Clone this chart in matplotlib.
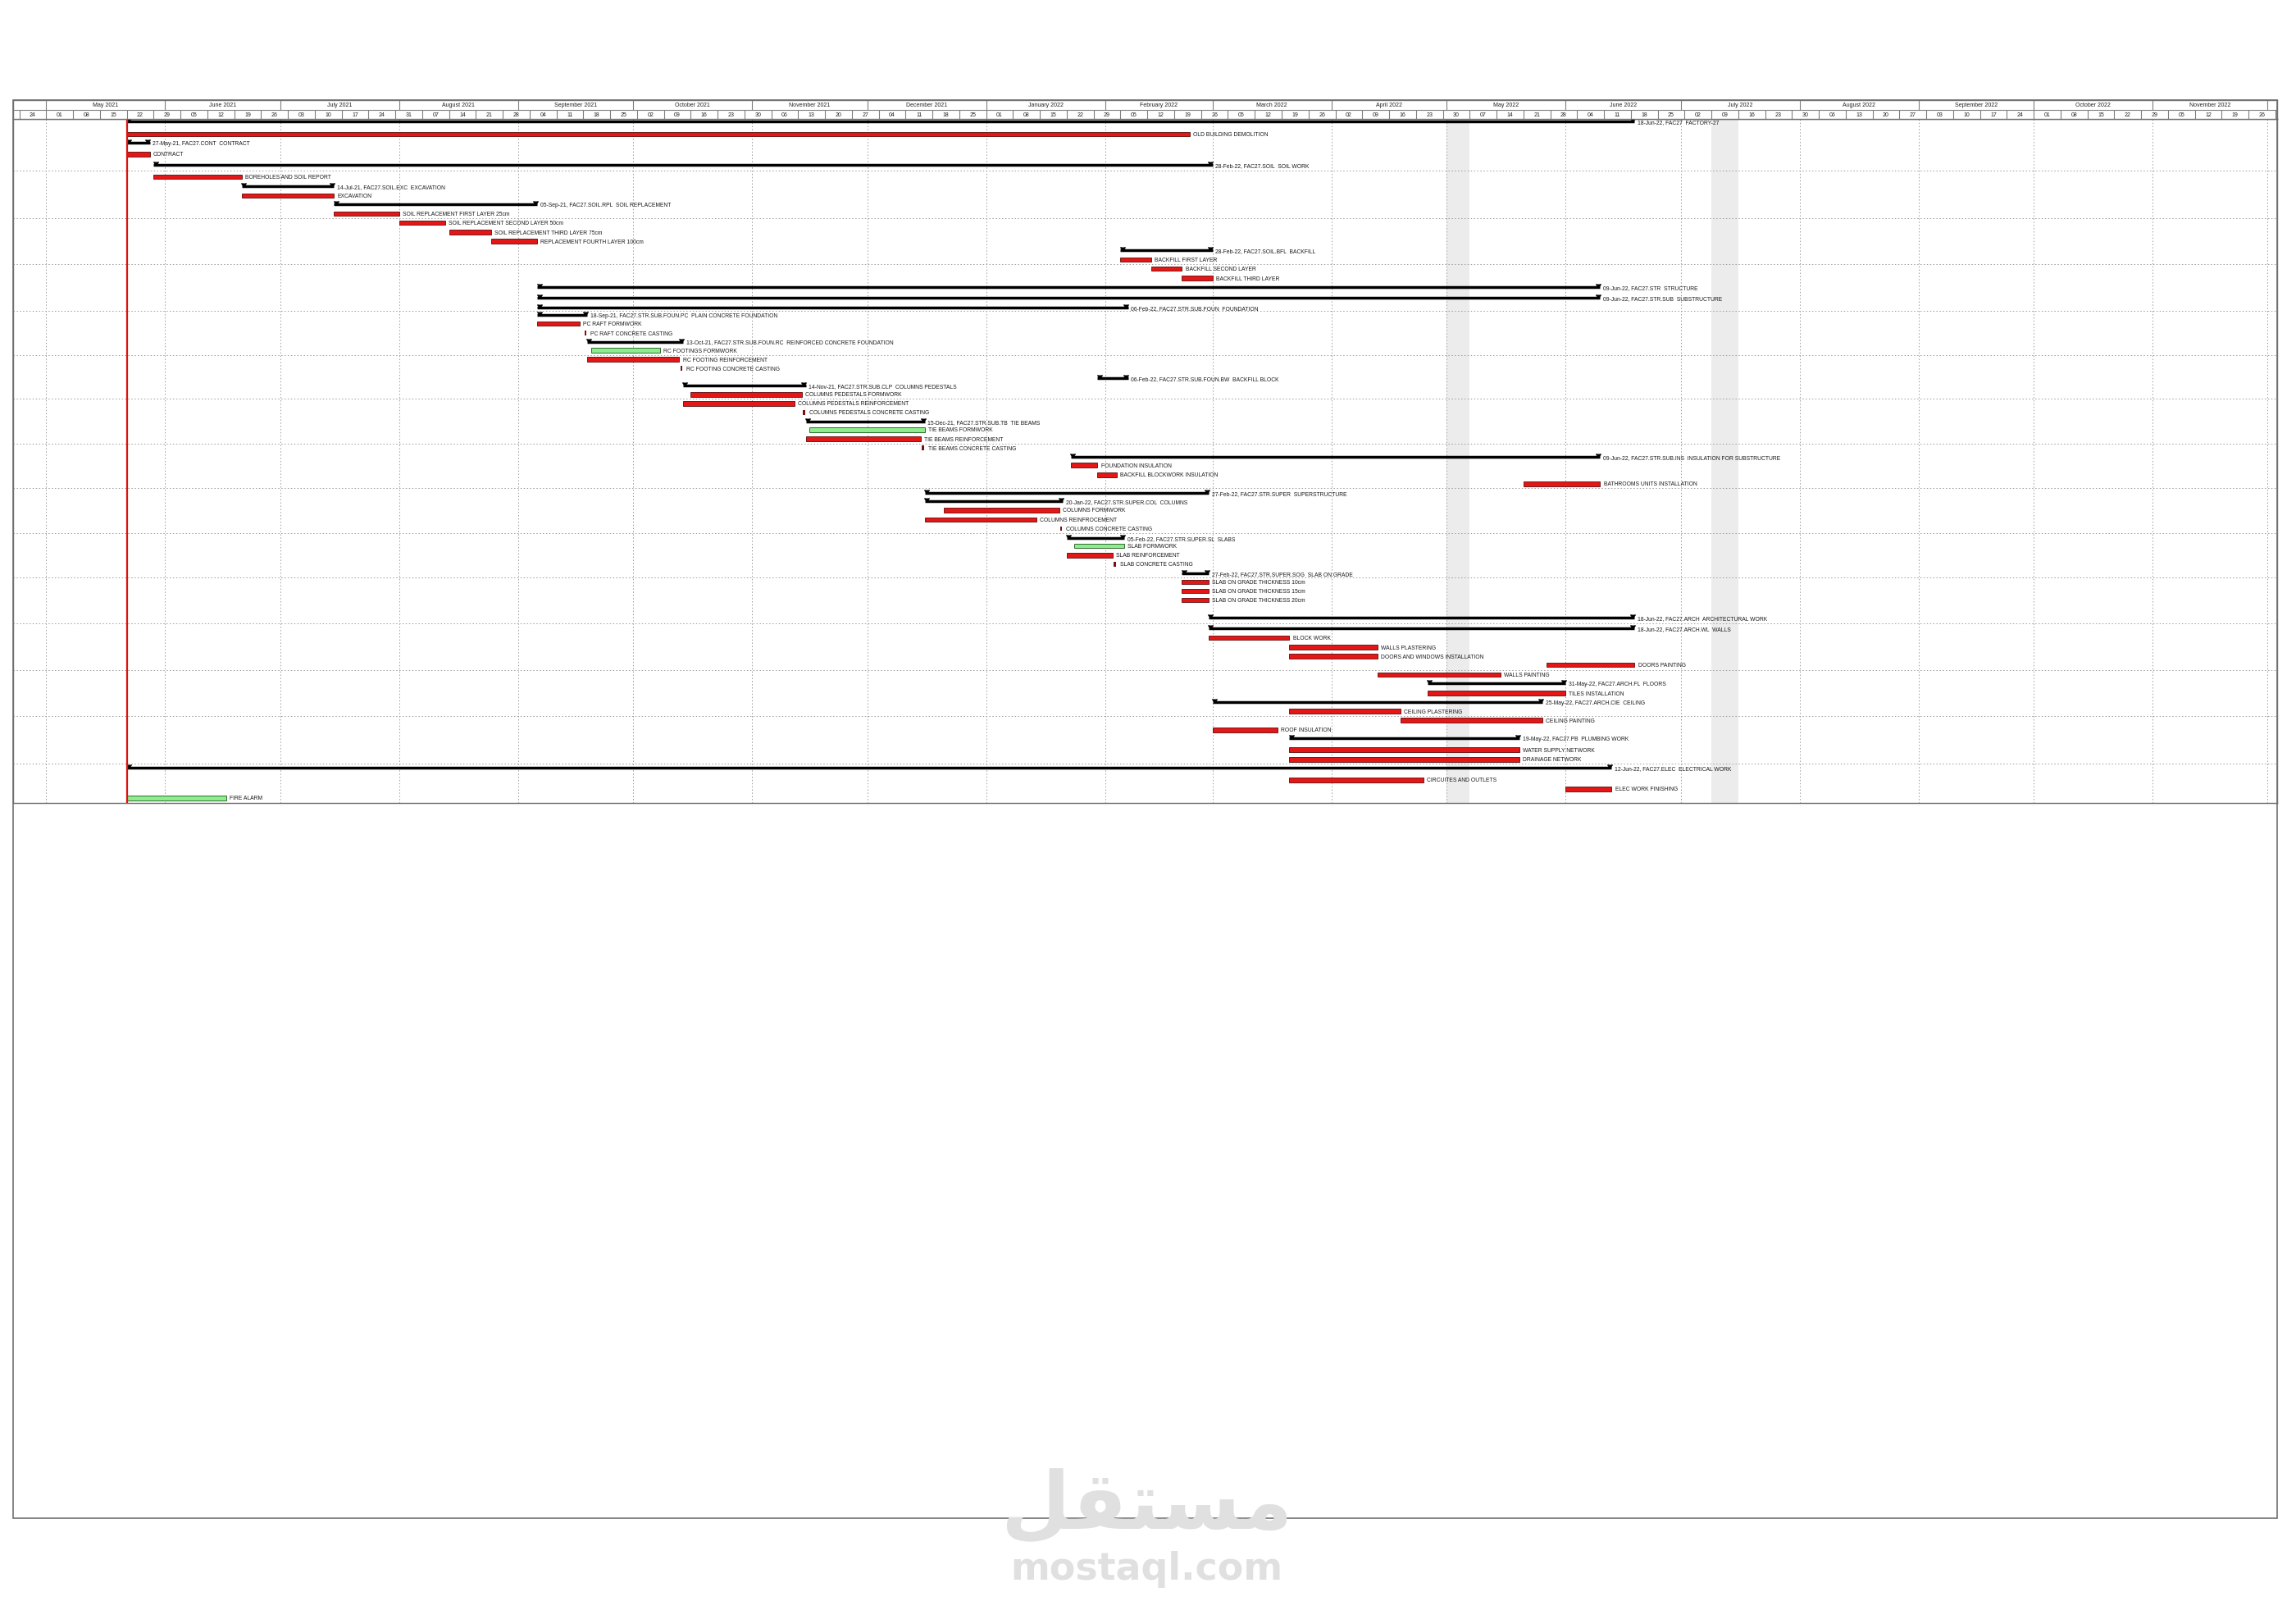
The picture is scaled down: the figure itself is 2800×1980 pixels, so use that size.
import matplotlib
matplotlib.use("Agg")
import matplotlib.pyplot as plt
import matplotlib.dates as mdates
from matplotlib.patches import Rectangle
import pandas as pd

plt.rcParams["font.family"] = ["Liberation Sans Narrow", "Liberation Sans", "DejaVu Sans"]

DATA_DATE = "2021-05-22"
VIEW_START = "2021-04-22 09:00"
VIEW_END = "2022-12-03 11:00"
HOLIDAYS = [("2022-05-01", "2022-05-07"), ("2022-07-09", "2022-07-16")]

# kind: S = WBS summary, T = activity, G = activity (green), C = one-day casting
KINDS = ["S", "T", "S", "T", "S", "T", "S", "T", "S", "T", "T", "T", "T",
         "S", "T", "T", "T", "S", "S", "S", "S", "T", "C", "S", "G", "T", "C",
         "S", "S", "T", "T", "C", "S", "G", "T", "C", "S", "T", "T", "T",
         "S", "S", "T", "T", "C", "S", "G", "T", "C", "S", "T", "T", "T",
         "S", "S", "T", "T", "T", "T", "T", "S", "T", "S", "T", "T", "T",
         "S", "T", "T", "S", "T", "T", "G"]

CODES = ["FAC27", "", "FAC27.CONT", "", "FAC27.SOIL", "", "FAC27.SOIL.EXC", "",
         "FAC27.SOIL.RPL", "", "", "", "", "FAC27.SOIL.BFL", "", "", "",
         "FAC27.STR", "FAC27.STR.SUB", "FAC27.STR.SUB.FOUN", "FAC27.STR.SUB.FOUN.PC",
         "", "", "FAC27.STR.SUB.FOUN.RC", "", "", "", "FAC27.STR.SUB.FOUN.BW",
         "FAC27.STR.SUB.CLP", "", "", "", "FAC27.STR.SUB.TB", "", "", "",
         "FAC27.STR.SUB.INS", "", "", "", "FAC27.STR.SUPER", "FAC27.STR.SUPER.COL",
         "", "", "", "FAC27.STR.SUPER.SL", "", "", "", "FAC27.STR.SUPER.SOG", "", "", "",
         "FAC27.ARCH", "FAC27.ARCH.WL", "", "", "", "", "", "FAC27.ARCH.FL", "",
         "FAC27.ARCH.CIE", "", "", "", "FAC27.PB", "", "", "FAC27.ELEC", "", "", ""]

NAMES = ["FACTORY-27", "OLD BUILDING DEMOLITION", "CONTRACT", "CONTRACT", "SOIL WORK",
         "BOREHOLES AND SOIL REPORT", "EXCAVATION", "EXCAVATION", "SOIL REPLACEMENT",
         "SOIL REPLACEMENT FIRST LAYER 25cm", "SOIL REPLACEMENT SECOND LAYER 50cm",
         "SOIL REPLACEMENT THIRD LAYER 75cm", "REPLACEMENT FOURTH LAYER 100cm",
         "BACKFILL", "BACKFILL FIRST LAYER", "BACKFILL SECOND LAYER", "BACKFILL THIRD LAYER",
         "STRUCTURE", "SUBSTRUCTURE", "FOUNDATION", "PLAIN CONCRETE FOUNDATION",
         "PC RAFT FORMWORK", "PC RAFT CONCRETE CASTING", "REINFORCED CONCRETE FOUNDATION",
         "RC FOOTINGS FORMWORK", "RC FOOTING REINFORCEMENT", "RC FOOTING CONCRETE CASTING",
         "BACKFILL BLOCK", "COLUMNS PEDESTALS", "COLUMNS PEDESTALS FORMWORK",
         "COLUMNS PEDESTALS REINFORCEMENT", "COLUMNS PEDESTALS CONCRETE CASTING",
         "TIE BEAMS", "TIE BEAMS FORMWORK", "TIE BEAMS REINFORCEMENT", "TIE BEAMS CONCRETE CASTING",
         "INSULATION FOR SUBSTRUCTURE", "FOUNDATION INSULATION", "BACKFILL BLOCKWORK INSULATION",
         "BATHROOMS UNITS INSTALLATION", "SUPERSTRUCTURE", "COLUMNS", "COLUMNS FORMWORK",
         "COLUMNS REINFROCEMENT", "COLUMNS CONCRETE CASTING", "SLABS", "SLAB FORMWORK",
         "SLAB REINFORCEMENT", "SLAB CONCRETE CASTING", "SLAB ON GRADE",
         "SLAB ON GRADE THICKNESS 10cm", "SLAB ON GRADE THICKNESS 15cm",
         "SLAB ON GRADE THICKNESS 20cm", "ARCHITECTURAL WORK", "WALLS", "BLOCK WORK",
         "WALLS PLASTERING", "DOORS AND WINDOWS INSTALLATION", "DOORS PAINTING",
         "WALLS PAINTING", "FLOORS", "TILES INSTALLATION", "CEILING", "CEILING PLASTERING",
         "CEILING PAINTING", "ROOF INSULATION", "PLUMBING WORK", "WATER SUPPLY NETWORK",
         "DRAINAGE NETWORK", "ELECTRICAL WORK", "CIRCUITES AND OUTLETS",
         "ELEC WORK FINISHING", "FIRE ALARM"]

STARTS = ["2021-05-22", "2021-05-22", "2021-05-22", "2021-05-22", "2021-05-29",
          "2021-05-29", "2021-06-21", "2021-06-21", "2021-07-15", "2021-07-15",
          "2021-08-01", "2021-08-14", "2021-08-25", "2022-02-05", "2022-02-05",
          "2022-02-13", "2022-02-21", "2021-09-06", "2021-09-06", "2021-09-06",
          "2021-09-06", "2021-09-06", "2021-09-18", "2021-09-19", "2021-09-20",
          "2021-09-19", "2021-10-13", "2022-01-30", "2021-10-14", "2021-10-16",
          "2021-10-14", "2021-11-14", "2021-11-15", "2021-11-16", "2021-11-15",
          "2021-12-15", "2022-01-23", "2022-01-23", "2022-01-30", "2022-05-21",
          "2021-12-16", "2021-12-16", "2021-12-21", "2021-12-16", "2022-01-20",
          "2022-01-22", "2022-01-24", "2022-01-22", "2022-02-03", "2022-02-21",
          "2022-02-21", "2022-02-21", "2022-02-21", "2022-02-28", "2022-02-28",
          "2022-02-28", "2022-03-21", "2022-03-21", "2022-05-27", "2022-04-13",
          "2022-04-26", "2022-04-26", "2022-03-01", "2022-03-21", "2022-04-19",
          "2022-03-01", "2022-03-21", "2022-03-21", "2022-03-21", "2021-05-22",
          "2022-03-21", "2022-06-01", "2021-05-22"]

FINISHES = ["2022-06-18", "2022-02-22", "2021-05-27", "2021-05-27", "2022-02-28",
            "2021-06-20", "2021-07-14", "2021-07-14", "2021-09-05", "2021-07-31",
            "2021-08-12", "2021-08-24", "2021-09-05", "2022-02-28", "2022-02-12",
            "2022-02-20", "2022-02-28", "2022-06-09", "2022-06-09", "2022-02-06",
            "2021-09-18", "2021-09-16", "2021-09-18", "2021-10-13", "2021-10-07",
            "2021-10-12", "2021-10-13", "2022-02-06", "2021-11-14", "2021-11-13",
            "2021-11-11", "2021-11-14", "2021-12-15", "2021-12-15", "2021-12-14",
            "2021-12-15", "2022-06-09", "2022-01-29", "2022-02-03", "2022-06-09",
            "2022-02-27", "2022-01-20", "2022-01-19", "2022-01-13", "2022-01-20",
            "2022-02-05", "2022-02-05", "2022-02-02", "2022-02-03", "2022-02-27",
            "2022-02-27", "2022-02-27", "2022-02-27", "2022-06-18", "2022-06-18",
            "2022-03-20", "2022-04-12", "2022-04-12", "2022-06-18", "2022-05-14",
            "2022-05-31", "2022-05-31", "2022-05-25", "2022-04-18", "2022-05-25",
            "2022-03-17", "2022-05-19", "2022-05-19", "2022-05-19", "2022-06-12",
            "2022-04-24", "2022-06-12", "2021-06-16"]

# row positions of the layout (rows are not all the same height)
ROWS = [0.0, 1.4, 2.35, 3.6, 4.8, 6.1, 7.1, 8.15, 9.1, 10.15, 11.15, 12.2, 13.2,
        14.2, 15.2, 16.2, 17.25, 18.25, 19.4, 20.5, 21.3, 22.25, 23.3, 24.25, 25.2,
        26.2, 27.2, 28.25, 29.1, 30.05, 31.05, 32.05, 33.05, 33.95, 34.95, 35.95,
        36.9, 37.85, 38.9, 39.9, 40.9, 41.85, 42.8, 43.85, 44.85, 45.85, 46.75,
        47.75, 48.75, 49.75, 50.7, 51.7, 52.7, 54.65, 55.85, 56.85, 57.9, 58.9,
        59.85, 60.9, 61.9, 62.95, 63.95, 64.95, 65.95, 67.0, 67.95, 69.2, 70.25,
        71.15, 72.5, 73.5, 74.5]
EMPTY_ROW_AFTER = 52          # a WBS row without bars sits here
SIGHT_EVERY = 5

# ── Figure layout ────────────────────────────────────────────────────────────
W, H = 2800, 1981
fig = plt.figure(figsize=(W / 100, H / 100), dpi=100)
L, R = 16 / W, 2777 / W
ax = fig.add_axes([L, 1 - 980 / H, R - L, (980 - 146) / H])
hx = fig.add_axes([L, 1 - 146 / H, R - L, (146 - 123) / H], sharex=ax)

x0, x1 = mdates.datestr2num(VIEW_START), mdates.datestr2num(VIEW_END)
ax.set_xlim(x0, x1)
ax.set_ylim(75.05, -0.28)
ax.set_xticks([])
ax.set_yticks([])
for sp in ax.spines.values():
    sp.set_color("#6f6f6f")
    sp.set_linewidth(1.0)

GRID = "#9a9a9a"
TXT = dict(fontsize=4.9, color="#1a1a1a", va="center", ha="left")

# holidays + month sight lines
for a, b in HOLIDAYS:
    ax.axvspan(mdates.datestr2num(a), mdates.datestr2num(b), color="#ececec", lw=0, zorder=0)
months = pd.date_range("2021-04-01", "2023-01-01", freq="MS")
for m in months:
    mx = mdates.date2num(m)
    if x0 < mx < x1:
        ax.axvline(mx, color=GRID, lw=0.7, ls=(0, (1.5, 2.5)), zorder=1)

# horizontal sight lines every 5 rows
slots = ROWS[:EMPTY_ROW_AFTER + 1] + [(ROWS[EMPTY_ROW_AFTER] + ROWS[EMPTY_ROW_AFTER + 1]) / 2] \
    + ROWS[EMPTY_ROW_AFTER + 1:]
for k in range(SIGHT_EVERY, len(slots), SIGHT_EVERY):
    ax.axhline((slots[k - 1] + slots[k]) / 2, color=GRID, lw=0.7, ls=(0, (1.5, 2.5)), zorder=1)

# data date
ax.axvline(mdates.datestr2num(DATA_DATE), color="#e01010", lw=1.6, zorder=5)

# bars
for kind, code, name, s, f, y in zip(KINDS, CODES, NAMES, STARTS, FINISHES, ROWS):
    xs = mdates.datestr2num(s)
    xe = mdates.datestr2num(f) + 1
    if kind == "S":
        ax.hlines(y, xs, xe, color="black", lw=2.5, zorder=4)
        ax.plot([xs + 0.5, xe - 0.5], [y, y], ls="none", marker=7, ms=4.2,
                color="black", zorder=4)
        label = f"{pd.Timestamp(f):%d-%b-%y}, {code}  {name}"
        ax.annotate(label, (xe, y), xytext=(2.5, -0.3), textcoords="offset points", **TXT)
        continue
    if kind == "C":
        ax.barh(y, 0.45, left=xs + 0.28, height=0.5, color="#7a1010", lw=0, zorder=4)
    elif kind == "G":
        ax.barh(y, xe - xs, left=xs, height=0.5, color="#8eec8e",
                edgecolor="#2f6a2f", lw=0.7, zorder=4)
    else:
        ax.barh(y, xe - xs, left=xs, height=0.5, color="#e41616",
                edgecolor="#5a0a0a", lw=0.6, zorder=4)
    ax.annotate(name, (xe, y), xytext=(3, 0), textcoords="offset points", **TXT)

# ── Timescale header ─────────────────────────────────────────────────────────
hx.set_ylim(0, 1)
hx.set_xticks([])
hx.set_yticks([])
for sp in hx.spines.values():
    sp.set_color("#6f6f6f")
    sp.set_linewidth(1.0)
hx.axhline(0.5, color="#7f7f7f", lw=0.8)
HTXT = dict(fontsize=5.0, color="#222222", ha="center", va="center", clip_on=True)

for m0, m1 in zip(months[:-1], months[1:]):
    a, b = mdates.date2num(m0), mdates.date2num(m1)
    if x0 < a < x1:
        hx.vlines(a, 0.5, 1, color="#7f7f7f", lw=0.8)
    lo, hi = max(a, x0), min(b, x1)
    if hi - lo > 10:
        hx.text((lo + hi) / 2, 0.75, f"{m0:%B %Y}", **HTXT)

weeks = pd.date_range("2021-04-17", "2022-12-10", freq="7D")
for w in weeks:
    a = mdates.date2num(w)
    if x0 < a < x1:
        hx.vlines(a, 0, 0.5, color="#7f7f7f", lw=0.8)
    if a >= x0 and a + 7 <= x1:
        hx.text(a + 3.5, 0.25, f"{w:%d}", **HTXT)

# outer frame (continues below the bar area)
fig.add_artist(Rectangle((L, 1 - 1852 / H), R - L, (1852 - 123) / H, transform=fig.transFigure,
                         fill=False, edgecolor="#6f6f6f", lw=1.2))

# site watermark
fig.text(0.4993, 0.073, "\uFEDE\uFED8\uFE98\uFEB4\uFEE3", fontsize=70, fontweight="bold",
         color="#e0e0e0", ha="center", va="center", family="DejaVu Sans", zorder=10)
fig.text(0.4993, 0.034, "mostaql.com", fontsize=33, fontweight="bold",
         color="#e0e0e0", ha="center", va="center", family="DejaVu Sans", zorder=10)

fig.savefig("out.png", dpi=100)
